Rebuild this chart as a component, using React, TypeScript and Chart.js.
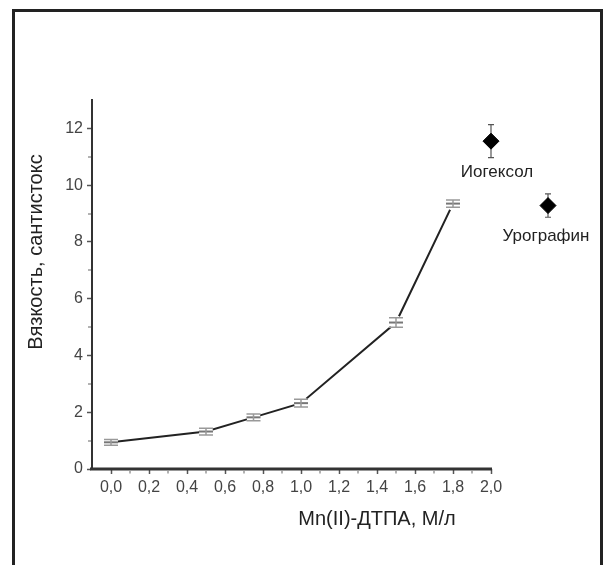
import React, { useEffect, useRef } from 'react';
import { Chart, registerables } from 'chart.js';

Chart.register(...registerables);

// ---- data ----
const concentrations = [0, 0.5, 0.75, 1.0, 1.5, 1.8];
const viscosity = [0.94, 1.32, 1.82, 2.32, 5.16, 9.35];
const viscosityErr = [0.1, 0.12, 0.12, 0.14, 0.17, 0.13];
const refNames = ['Иогексол', 'Урографин'];
const refX = [2.0, 2.3];
const refY = [11.55, 9.28];
const refErr = [0.58, 0.41];
const xTicks = [0, 0.2, 0.4, 0.6, 0.8, 1.0, 1.2, 1.4, 1.6, 1.8, 2.0];
const xMinorTicks = [0.1, 0.3, 0.5, 0.7, 0.9, 1.1, 1.3, 1.5, 1.7, 1.9];
const yTicks = [0, 2, 4, 6, 8, 10, 12];
const yMinorTicks = [1, 3, 5, 7, 9, 11];
const xAxisMin = -0.1;
const xAxisEnd = 2.0;
const xTitle = 'Mn(II)-ДТПА, М/л';
const yTitle = 'Вязкость, сантистокс';

const FONT = '"Liberation Sans", Arial, sans-serif';

const decorPlugin = {
  id: 'decor',
  beforeDraw(chart: any) {
    const ctx = chart.ctx;
    ctx.save();
    ctx.fillStyle = '#ffffff';
    ctx.fillRect(0, 0, chart.width, chart.height);
    ctx.strokeStyle = '#222';
    ctx.lineWidth = 3;
    ctx.beginPath();
    ctx.moveTo(13.5, chart.height + 10);
    ctx.lineTo(13.5, 10.5);
    ctx.lineTo(601.5, 10.5);
    ctx.lineTo(601.5, chart.height + 10);
    ctx.stroke();
    ctx.restore();
  },
  afterDatasetsDraw(chart: any) {
    const ctx = chart.ctx;
    const xs = chart.scales.x;
    const ys = chart.scales.y;
    ctx.save();
    const bar = (xv: number, yv: number, e: number, cap: number, color: string, w: number) => {
      const px = xs.getPixelForValue(xv);
      const top = ys.getPixelForValue(yv + e);
      const bot = ys.getPixelForValue(yv - e);
      ctx.strokeStyle = color;
      ctx.lineWidth = w;
      ctx.beginPath();
      ctx.moveTo(px, top);
      ctx.lineTo(px, bot);
      ctx.moveTo(px - cap, top);
      ctx.lineTo(px + cap, top);
      ctx.moveTo(px - cap, bot);
      ctx.lineTo(px + cap, bot);
      ctx.stroke();
    };
    concentrations.forEach((xv, i) => bar(xv, viscosity[i], viscosityErr[i], 7, '#999', 1.5));
    // labels for reference substances
    ctx.fillStyle = '#222';
    ctx.font = `17px ${FONT}`;
    ctx.textAlign = 'center';
    ctx.textBaseline = 'middle';
    const offs = [[6, 31], [-2, 31]];
    refNames.forEach((name, i) => {
      const px = xs.getPixelForValue(refX[i]);
      const py = ys.getPixelForValue(refY[i]);
      ctx.fillText(name, px + offs[i][0], py + offs[i][1]);
    });
    ctx.restore();
  },
  beforeDatasetsDraw(chart: any) {
    // error bars of reference substances (drawn beneath the diamonds)
    const ctx = chart.ctx;
    const xs = chart.scales.x;
    const ys = chart.scales.y;
    ctx.save();
    ctx.strokeStyle = '#555';
    ctx.lineWidth = 1.2;
    ctx.beginPath();
    refX.forEach((xv, i) => {
      const px = xs.getPixelForValue(xv);
      const top = ys.getPixelForValue(refY[i] + refErr[i]);
      const bot = ys.getPixelForValue(refY[i] - refErr[i]);
      ctx.moveTo(px, top);
      ctx.lineTo(px, bot);
      ctx.moveTo(px - 3, top);
      ctx.lineTo(px + 3, top);
      ctx.moveTo(px - 3, bot);
      ctx.lineTo(px + 3, bot);
    });
    ctx.stroke();
    ctx.restore();
  },
  afterDraw(chart: any) {
    const ctx = chart.ctx;
    const xs = chart.scales.x;
    const ys = chart.scales.y;
    const ca = chart.chartArea;
    ctx.save();
    // x axis line (only up to the last tick)
    ctx.strokeStyle = '#333';
    ctx.lineWidth = 3;
    ctx.beginPath();
    ctx.moveTo(xs.getPixelForValue(xAxisMin) - 2, ca.bottom);
    ctx.lineTo(xs.getPixelForValue(xAxisEnd) + 1, ca.bottom);
    ctx.stroke();
    // minor ticks
    ctx.strokeStyle = '#999';
    ctx.lineWidth = 1.5;
    ctx.beginPath();
    xMinorTicks.forEach((v) => {
      const px = Math.round(xs.getPixelForValue(v));
      ctx.moveTo(px, ca.bottom + 2);
      ctx.lineTo(px, ca.bottom + 4.5);
    });
    yMinorTicks.forEach((v) => {
      const py = Math.round(ys.getPixelForValue(v));
      ctx.moveTo(ca.left - 4, py);
      ctx.lineTo(ca.left - 1, py);
    });
    ctx.stroke();
    // axis titles
    ctx.fillStyle = '#222';
    ctx.font = `20px ${FONT}`;
    ctx.textAlign = 'center';
    ctx.textBaseline = 'middle';
    ctx.fillText(xTitle, xs.getPixelForValue(1.4), ca.bottom + 50);
    ctx.translate(36, ca.top + 152);
    ctx.rotate(-Math.PI / 2);
    ctx.fillText(yTitle, 0, 0);
    ctx.restore();
  },
};

export default function App() {
  const ref = useRef<HTMLCanvasElement | null>(null);
  useEffect(() => {
    if (!ref.current) return;
    const mainPts = concentrations.map((x, i) => ({ x, y: viscosity[i] }));
    const refPts = refX.map((x, i) => ({ x, y: refY[i] }));
    const chart = new Chart(ref.current, {
      type: 'scatter',
      data: {
        datasets: [
          {
            data: mainPts,
            showLine: true,
            borderColor: '#222',
            borderWidth: 2,
            pointRadius: 7,
            pointStyle: 'circle',
            pointBackgroundColor: '#ffffff',
            pointBorderColor: '#ffffff',
            pointBorderWidth: 0,
            order: 3,
          },
          {
            data: mainPts,
            showLine: false,
            pointStyle: 'line',
            pointRadius: 7,
            pointBorderColor: '#777',
            pointBorderWidth: 2,
            order: 2,
          },
          {
            data: refPts,
            showLine: false,
            pointStyle: 'rectRot',
            pointRadius: 8,
            pointBackgroundColor: '#000',
            pointBorderColor: '#000',
            pointBorderWidth: 1,
            clip: false,
            order: 1,
          },
        ] as any,
      },
      options: {
        animation: false,
        responsive: false,
        layout: { padding: { left: 0, right: 38, top: 100, bottom: 0 } },
        plugins: { legend: { display: false }, tooltip: { enabled: false } },
        scales: {
          x: {
            type: 'linear',
            min: xAxisMin,
            max: 2.4,
            afterBuildTicks: (s: any) => {
              s.ticks = xTicks.map((v) => ({ value: v }));
            },
            afterFit: (s: any) => {
              s.height = 96;
            },
            grid: { drawOnChartArea: false, tickLength: 5, tickColor: '#555', tickWidth: 1.5 },
            border: { display: false },
            ticks: {
              autoSkip: false,
              maxRotation: 0,
              padding: 4,
              color: '#444',
              font: { family: FONT, size: 16 },
              callback: (v: any) => Number(v).toFixed(1).replace('.', ','),
            },
          },
          y: {
            type: 'linear',
            min: 0,
            max: 13,
            afterBuildTicks: (s: any) => {
              s.ticks = yTicks.map((v) => ({ value: v }));
            },
            afterFit: (s: any) => {
              s.width = 92;
            },
            grid: { drawOnChartArea: false, tickLength: 5, tickColor: '#555', tickWidth: 1.5 },
            border: { color: '#333', width: 2 },
            ticks: {
              autoSkip: false,
              padding: 4,
              color: '#444',
              font: { family: FONT, size: 16 },
              callback: (v: any) => String(v),
            },
          },
        },
      },
      plugins: [decorPlugin],
    } as any);
    return () => chart.destroy();
  }, []);
  return (
    <div style={{ position: 'absolute', left: 0, top: 0, width: 605, height: 565 }}>
      <canvas ref={ref} width={605} height={565} style={{ display: 'block', width: 605, height: 565 }} />
    </div>
  );
}
